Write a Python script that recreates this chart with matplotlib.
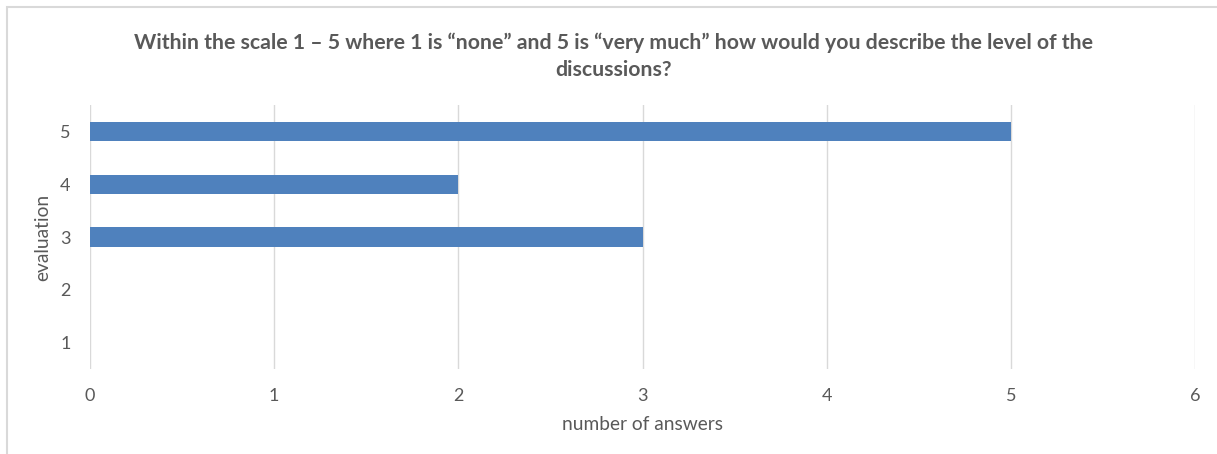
import matplotlib.pyplot as plt
from matplotlib.patches import Rectangle

evaluations = [1, 2, 3, 4, 5]
answers = [0, 0, 3, 2, 5]
x_ticks = [0, 1, 2, 3, 4, 5, 6]

title = ("Within the scale 1 \u2013 5 where 1 is \u201cnone\u201d and 5 is \u201cvery much\u201d "
         "how would you describe the level of the\ndiscussions?")

plt.rcParams['font.family'] = ['Lato', 'DejaVu Sans']
text_color = '#595959'
grid_color = '#D9D9D9'
bar_color = '#4F81BD'

fig = plt.figure(figsize=(12.17, 4.54), dpi=100)
ax = fig.add_axes([90 / 1217, 85 / 454, 1105 / 1217, 264 / 454])

ax.barh(evaluations, answers, height=0.36, color=bar_color, zorder=3)

ax.set_xlim(0, 6)
ax.set_ylim(0.5, 5.5)
ax.set_xticks(x_ticks)
ax.set_yticks(evaluations)
ax.tick_params(axis='both', length=0, labelsize=13, colors=text_color)
ax.tick_params(axis='x', pad=14)
ax.tick_params(axis='y', pad=14)
ax.grid(axis='x', color=grid_color, linewidth=1, zorder=0)
for side in ['top', 'right', 'bottom', 'left']:
    ax.spines[side].set_visible(False)

ax.set_xlabel('number of answers', fontsize=13.8, color=text_color, labelpad=8)
ax.set_ylabel('evaluation', fontsize=13.8, color=text_color, labelpad=6)

fig.text(614 / 1217, 1 - 56 / 454, title, ha='center', va='center',
         fontsize=15.3, fontweight='bold', color=text_color, linespacing=1.45)

fig.patches.append(Rectangle((7 / 1217, -0.1), 1.2, (454 - 7) / 454 + 0.1,
                             transform=fig.transFigure, fill=False,
                             edgecolor='#D9D9D9', linewidth=1.5))

fig.savefig('out.png', dpi=100)
